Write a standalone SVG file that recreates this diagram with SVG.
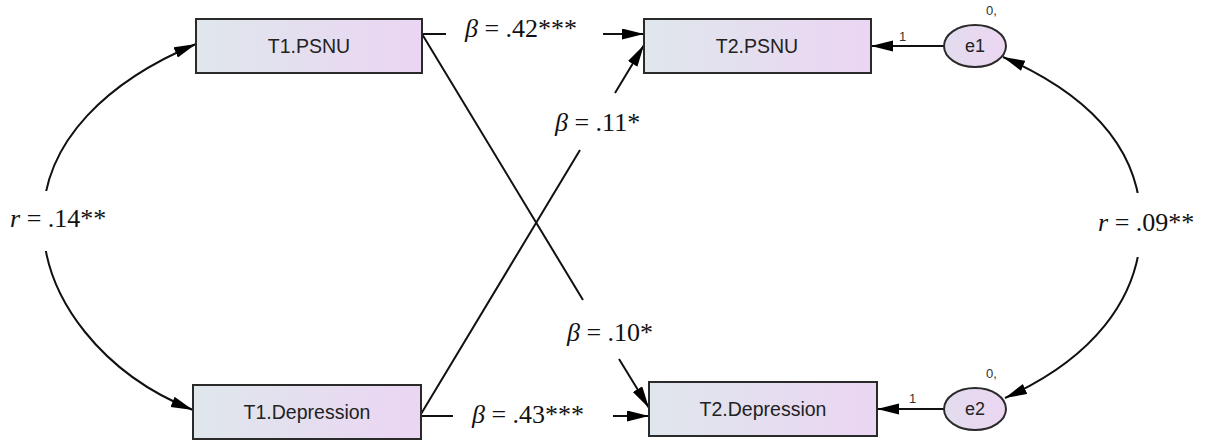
<svg xmlns="http://www.w3.org/2000/svg" width="1206" height="441" viewBox="0 0 1206 441">
<defs>
<linearGradient id="boxg" x1="0" y1="0" x2="1" y2="0">
<stop offset="0" stop-color="#dfe7ec"/>
<stop offset="1" stop-color="#ebd5f3"/>
</linearGradient>
<linearGradient id="ellg" x1="0" y1="0" x2="1" y2="0">
<stop offset="0" stop-color="#e2dcee"/>
<stop offset="1" stop-color="#ecd6f2"/>
</linearGradient>
<marker id="ah" markerUnits="userSpaceOnUse" markerWidth="24" markerHeight="12" refX="22" refY="5.5" orient="auto-start-reverse" viewBox="0 0 24 12">
<path d="M0,0 L22,5.5 L0,11 Z" fill="#000"/>
</marker>
</defs>
<style>
.box{fill:url(#boxg);stroke:#2a2a2a;stroke-width:2}
.ell{fill:url(#ellg);stroke:#2a2a2a;stroke-width:2}
.nt{font-family:"Liberation Sans",Arial,sans-serif;font-size:19.5px;fill:#222;text-anchor:middle}
.et{font-family:"Liberation Sans",Arial,sans-serif;font-size:18px;fill:#222;text-anchor:middle}
.sm{font-family:"Liberation Sans",Arial,sans-serif;font-size:13px;fill:#333}
.lb{font-family:"Liberation Serif","Times New Roman",serif;font-size:26px;fill:#111}
.it{font-style:italic}
.ln{fill:none;stroke:#111;stroke-width:2}
</style>
<rect width="1206" height="441" fill="#fff"/>
<g id="connectors">
<path class="ln" d="M422,34 L446,34 M603,34 L644,34" marker-end="url(#ah)"/>
<path class="ln" d="M422,34 L583,300 M619,359 L649,408" marker-end="url(#ah)"/>
<path class="ln" d="M421,414 L580,150 M615,93 L644,45" marker-end="url(#ah)"/>
<path class="ln" d="M421,416 L453,416 M613,416 L649,416" marker-end="url(#ah)"/>
<path class="ln" d="M944,46 L871,46" marker-end="url(#ah)"/>
<path class="ln" d="M944,409 L877,409" marker-end="url(#ah)"/>
<path class="ln" d="M196,44 C110,80 43,140 43,221 C43,300 105,375 193,410" marker-start="url(#ah)" marker-end="url(#ah)"/>
<path class="ln" d="M1003,57 C1090,95 1141,150 1141,225 C1141,300 1090,360 1005,398" marker-start="url(#ah)" marker-end="url(#ah)"/>
<rect x="6" y="191" width="106" height="60" fill="#fff"/>
<rect x="1094" y="193" width="108" height="64" fill="#fff"/>
<text class="lb" x="465" y="37"><tspan class="it">β</tspan> = .42***</text>
<text class="lb" x="555" y="131"><tspan class="it">β</tspan> = .11*</text>
<text class="lb" x="567" y="341"><tspan class="it">β</tspan> = .10*</text>
<text class="lb" x="472" y="423"><tspan class="it">β</tspan> = .43***</text>
<text class="lb" x="10" y="227"><tspan class="it">r</tspan> = .14**</text>
<text class="lb" x="1098" y="231"><tspan class="it">r</tspan> = .09**</text>
<text class="sm" x="899" y="41">1</text>
<text class="sm" x="909" y="403">1</text>
</g>
<g id="T1PSNU"><rect class="box" x="196" y="19" width="226" height="54"/><text class="nt" x="309" y="53">T1.PSNU</text></g>
<g id="T2PSNU"><rect class="box" x="644" y="19" width="227" height="54"/><text class="nt" x="757" y="53">T2.PSNU</text></g>
<g id="T1Depression"><rect class="box" x="193" y="385" width="228" height="54"/><text class="nt" x="307" y="419">T1.Depression</text></g>
<g id="T2Depression"><rect class="box" x="649" y="382" width="228" height="54"/><text class="nt" x="763" y="416">T2.Depression</text></g>
<g id="e1"><ellipse class="ell" cx="975" cy="46" rx="31" ry="21"/><text class="et" x="975" y="52">e1</text><text class="sm" x="986" y="15">0,</text></g>
<g id="e2"><ellipse class="ell" cx="975" cy="409" rx="31" ry="21"/><text class="et" x="975" y="415">e2</text><text class="sm" x="986" y="378">0,</text></g>
</svg>
